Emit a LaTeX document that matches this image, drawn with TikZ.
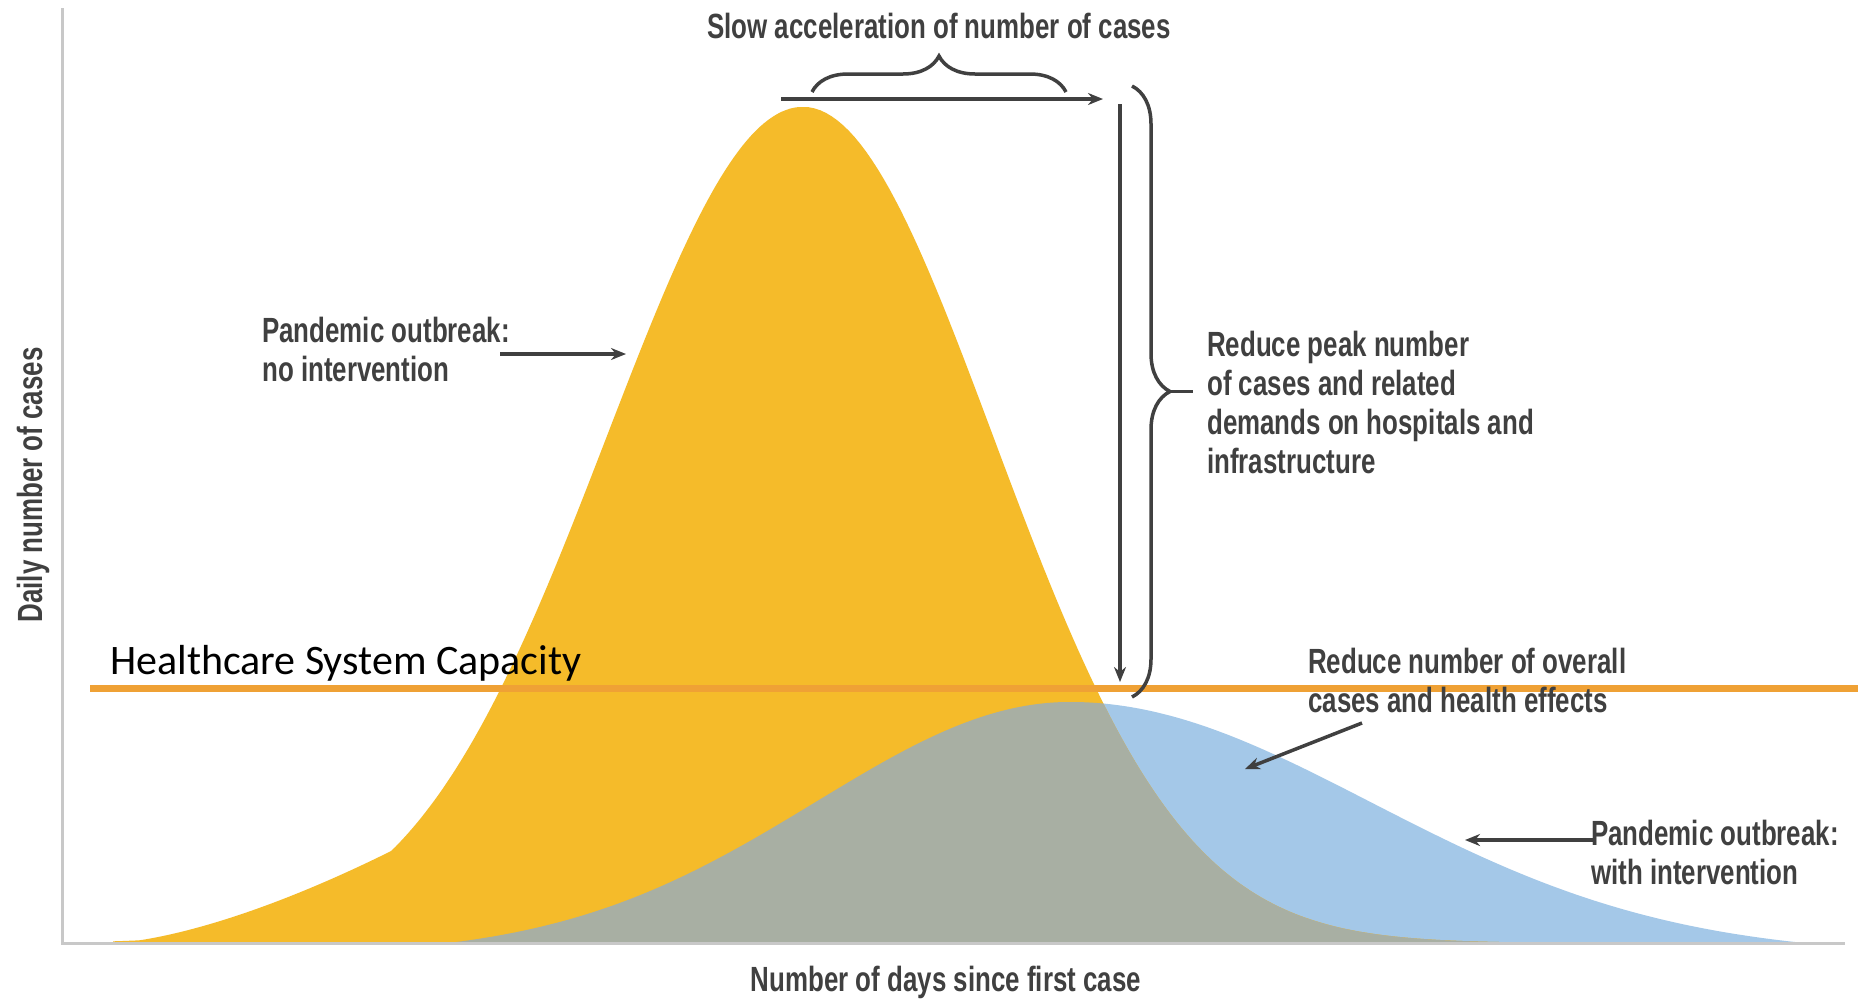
\documentclass[tikz,border=0pt]{standalone}
\usepackage{fontspec}
\setmainfont[FakeStretch=0.74]{Liberation Sans}
\newfontfamily\calib{Carlito}
\usetikzlibrary{decorations.pathreplacing,arrows.meta}
\definecolor{yel}{HTML}{F5BB2A}
\definecolor{blu}{HTML}{A4C8E8}
\definecolor{gry}{HTML}{A8AFA3}
\definecolor{cap}{HTML}{EFA135}
\definecolor{txt}{HTML}{404040}
\definecolor{axc}{HTML}{C8C8C8}
\newcommand{\yelpath}{(113,943) -- plot[domain=113:803,samples=160] (\x,{943-max(836*exp(-0.5*((\x-803)/196)*((\x-803)/196)), 87*((\x-113)/268)*sqrt((\x-113)/268))}) -- plot[domain=803:1600,samples=140] (\x,{943-836*exp(-0.5*((\x-803)/190)*((\x-803)/190))}) -- (1600,943) -- cycle}
\newcommand{\blupath}{(448,943) -- plot[domain=448:1070,samples=140] (\x,{943-241*(exp(-0.5*((\x-1070)/254)*((\x-1070)/254))-0.05)/0.95}) -- plot[domain=1070:1804,samples=140] (\x,{943-241*(exp(-0.5*((\x-1070)/300)*((\x-1070)/300))-0.05)/0.95}) -- (1804,943) -- cycle}
\begin{document}
\begin{tikzpicture}[x=1pt,y=-1pt,
  lbl/.style={font=\bfseries\fontsize{35}{39}\selectfont, text=txt, align=left, inner sep=0pt},
  arr/.style={draw=txt, line width=3.5pt, -{Stealth[length=15pt,width=12pt]}},
  brc/.style={draw=txt, line width=3.5pt, decorate, decoration={brace, amplitude=#1}},
  axis/.style={draw=axc, line width=3pt},
  capline/.style={draw=cap, line width=7pt}]
\useasboundingbox (0,0) rectangle (1865,1002);
\fill[white] (0,0) rectangle (1865,1002);
% curves
\fill[blu] \blupath;
\fill[yel] \yelpath;
\begin{scope}
  \clip \yelpath;
  \fill[gry] \blupath;
\end{scope}
% axes
\draw[axis] (62,8) -- (62,943) -- (1845,943);
% capacity line and label
\draw[capline] (90,688) -- (1858,688);
\node[font=\calib\fontsize{42}{50}\selectfont, anchor=base west, inner sep=0pt] (caplbl) at (110,674) {Healthcare System Capacity};
% axis labels
\node[lbl, rotate=90] (ylbl) at (33,485) {Daily number of cases};
\node[lbl] (xlbl) at (946,982) {Number of days since first case};
% top label and brace
\node[lbl, anchor=base] (slow) at (939,38) {Slow acceleration of number of cases};
\coordinate (hb1) at (812,92);
\coordinate (hb2) at (1066,92);
\draw[brc=36pt] (hb1) -- (hb2);
\coordinate (ha1) at (781,99);
\coordinate (ha2) at (1103,99);
\draw[arr] (ha1) -- (ha2);
% vertical arrow and brace
\coordinate (va1) at (1120,104);
\coordinate (va2) at (1120,682);
\draw[arr] (va1) -- (va2);
\coordinate (vb1) at (1132,86);
\coordinate (vb2) at (1132,697);
\draw[brc=38pt] (vb1) -- (vb2);
\coordinate (vbt) at (1170,391.5);
\coordinate (vbd) at (1193,391.5);
\draw[draw=txt, line width=3.5pt] (vbt) -- (vbd);
% labels
\node[lbl, anchor=west] (peak) at (1207,402) {Reduce peak number\\of cases and related\\demands on hospitals and\\infrastructure};
\node[lbl, anchor=west] (noint) at (262,349) {Pandemic outbreak:\\no intervention};
\coordinate (n1) at (500,354);
\coordinate (n2) at (626,354);
\draw[arr] (n1) -- (n2);
\node[lbl, anchor=west] (overall) at (1308,680) {Reduce number of overall\\cases and health effects};
\coordinate (o1) at (1362,723);
\coordinate (o2) at (1245,769);
\draw[arr] (o1) -- (o2);
\node[lbl, anchor=west] (withint) at (1591,852) {Pandemic outbreak:\\with intervention};
\coordinate (w1) at (1593,840);
\coordinate (w2) at (1465,840);
\draw[arr] (w1) -- (w2);
\end{tikzpicture}
\end{document}
